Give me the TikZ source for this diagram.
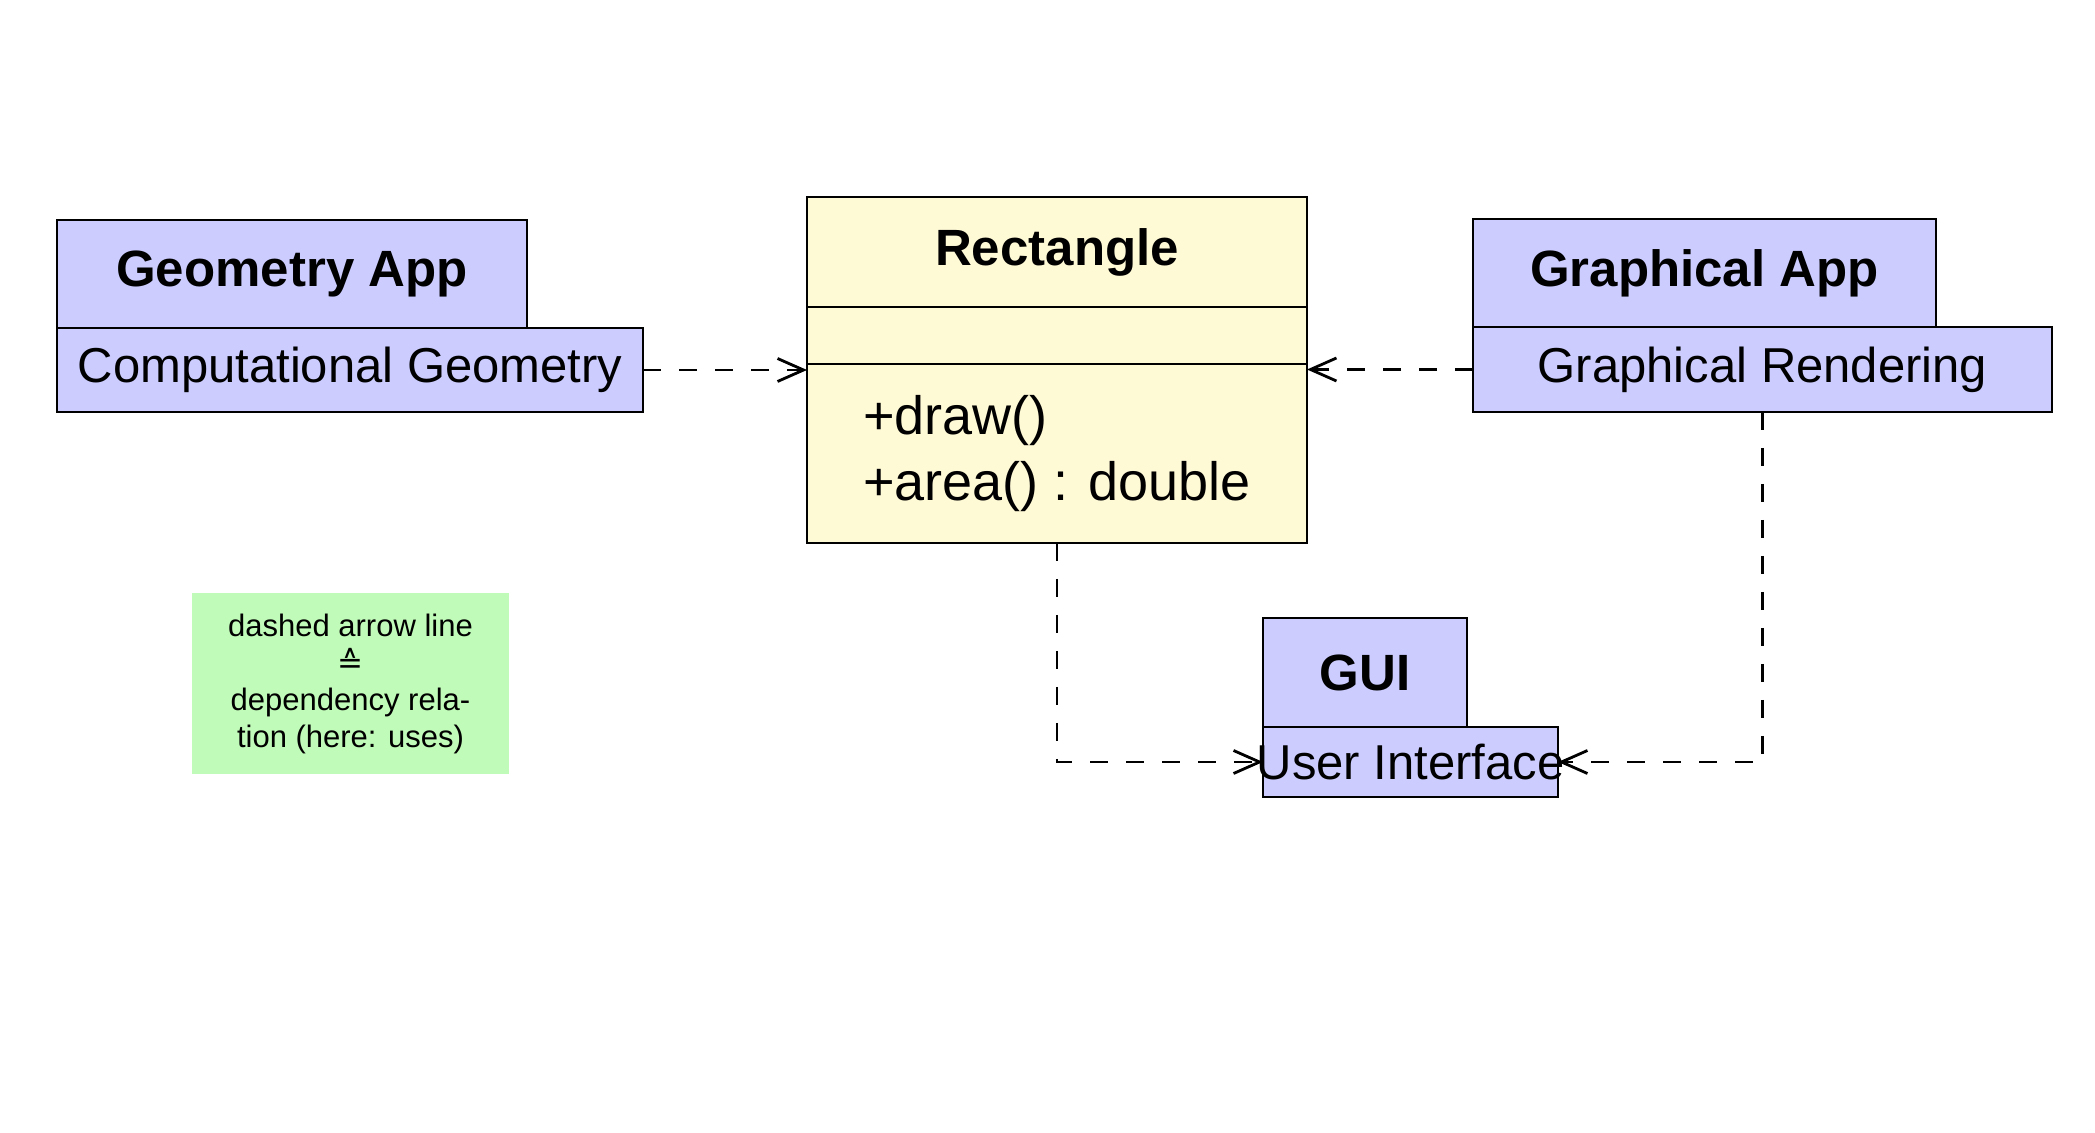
\documentclass[tikz,border=0pt]{standalone}
\usepackage{fontspec}
\setmainfont{Liberation Sans}
\newfontfamily\dvsans{DejaVu Sans}
\usetikzlibrary{positioning,arrows.meta}
\definecolor{pkgblue}{HTML}{CCCCFF}
\definecolor{classyellow}{HTML}{FFFAD6}
\definecolor{notegreen}{HTML}{C1FBB9}

\begin{document}
\begin{tikzpicture}[x=0.5pt,y=-0.5pt,line width=1.4pt,
    pkg/.style={rectangle,draw=black,fill=pkgblue,inner sep=0pt,outer sep=0pt},
    dep/.style={dash pattern=on 9pt off 9pt,-{Straight Barb[length=13pt,width=11.5pt]}}]
    \tikzstyle{classpart}=[rectangle,draw=black,fill=classyellow,minimum width=250pt,inner sep=0pt,outer sep=0pt]
    \tikzstyle{title}=[font=\fontsize{25.5}{30}\selectfont\bfseries]
    \tikzstyle{body}=[font=\fontsize{24.5}{30}\selectfont]

    \useasboundingbox (0,0) rectangle (2095,1133);

    % packages
    \node[pkg,title,minimum width=235pt,minimum height=54pt] (geoapp) at (292,274) {Geometry App};
    \node[pkg,body,minimum width=293pt,minimum height=42pt] (compgeo) at (350,370) {Computational Geometry};
    \node[pkg,title,minimum width=231.5pt,minimum height=54pt] (graphapp) at (1704.5,273) {Graphical App};
    \node[pkg,body,minimum width=289.5pt,minimum height=42.5pt] (graphrend) at (1762.5,369.5) {Graphical Rendering};
    \node[pkg,title,minimum width=102pt,minimum height=54.5pt] (gui) at (1365,672.5) {GUI};
    \node[pkg,minimum width=147.5pt,minimum height=35pt] (uibox) at (1410.5,762) {};
    \node[body,inner sep=0pt] (uitext) at (uibox) {User Interface};

    % class
    \node[classpart,title,minimum height=55pt] (rectname) at (1057,252) {Rectangle};
    \node[classpart,minimum height=28.5pt,below=0pt of rectname] (rectattr) {};
    \node[classpart,minimum height=89.5pt,below=0pt of rectattr,align=left,
        font=\fontsize{27}{33}\selectfont] (rectops) {+draw()\\+area() : double};

    % note
    \node[fill=notegreen,minimum width=158.5pt,minimum height=90.5pt,align=center,
        font=\fontsize{15.5}{18.5}\selectfont] (note) at (350.5,683.5)
        {dashed arrow line\\{\dvsans ≙}\\dependency rela-\\tion (here: uses)};

    % dependencies
    \draw[dep] (compgeo.east) -- (compgeo.east -| rectops.west);
    \draw[dep] (graphrend.west) -- (graphrend.west -| rectops.east);
    \draw[dep] (rectops.south) |- (uibox.west);
    \draw[dep] (graphrend.south) |- (uibox.east);

\end{tikzpicture}
\end{document}
